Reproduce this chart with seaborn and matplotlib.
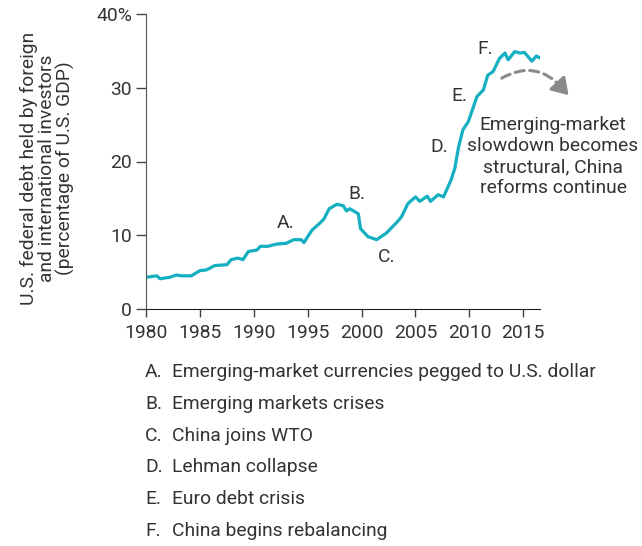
import numpy as np
import pandas as pd
import matplotlib
matplotlib.use('Agg')
import matplotlib.pyplot as plt
import seaborn as sns

# 数据
years = [1979.8, 1980.0, 1981.0, 1981.3, 1982.2, 1982.8, 1983.3, 1984.2, 1985.0, 1985.6,
         1986.4, 1987.5, 1987.9, 1988.5, 1989.0, 1989.5, 1990.3, 1990.6, 1991.3, 1992.1,
         1993.0, 1993.7, 1994.4, 1994.65, 1995.4, 1996.1, 1996.5, 1997.0, 1997.7, 1998.3,
         1998.6, 1998.9, 1999.7, 1999.9, 2000.6, 2001.4, 2002.3, 2003.3, 2003.7, 2004.3,
         2005.0, 2005.4, 2006.1, 2006.4, 2007.1, 2007.6, 2008.3, 2008.65, 2009.0, 2009.4,
         2009.9, 2010.7, 2011.3, 2011.7, 2012.2, 2012.8, 2013.3, 2013.6, 2014.2, 2014.7,
         2015.1, 2015.8, 2016.2, 2016.6]
share = [4.6, 4.3, 4.5, 4.1, 4.3, 4.6, 4.5, 4.5, 5.2, 5.3,
         5.9, 6.0, 6.7, 6.9, 6.7, 7.8, 8.0, 8.5, 8.5, 8.8,
         8.9, 9.4, 9.4, 9.0, 10.7, 11.6, 12.2, 13.6, 14.2, 14.0,
         13.3, 13.6, 12.9, 10.9, 9.8, 9.4, 10.3, 11.8, 12.5, 14.3,
         15.2, 14.6, 15.3, 14.6, 15.5, 15.2, 17.5, 19.1, 22.0, 24.3,
         25.4, 28.8, 29.7, 31.7, 32.2, 34.0, 34.7, 33.8, 34.9, 34.7,
         34.8, 33.6, 34.3, 34.0]

event_letters = ['A.', 'B.', 'C.', 'D.', 'E.', 'F.']
event_x = [1992.95, 1999.6, 2002.3, 2007.2, 2009.1, 2011.5]
event_y = [11.6, 15.6, 7.1, 22.0, 28.9, 35.3]
event_notes = ['Emerging-market currencies pegged to U.S. dollar',
               'Emerging markets crises',
               'China joins WTO',
               'Lehman collapse',
               'Euro debt crisis',
               'China begins rebalancing']

y_ticks = [0, 10, 20, 30, 40]
y_ticklabels = ['0', '10', '20', '30', '40%']
x_ticks = [1980, 1985, 1990, 1995, 2000, 2005, 2010, 2015]

LINE_COLOR = '#14afc0'
TEXT_COLOR = '#333333'
ARROW_COLOR = '#8a8a8a'
FS = 13.9

sns.set_style('ticks')
plt.rcParams['font.family'] = ['Roboto', 'DejaVu Sans']
plt.rcParams['font.weight'] = 'normal'
plt.rcParams['font.size'] = FS

df = pd.DataFrame({'year': years, 'share': share})

fig = plt.figure(figsize=(6.42, 5.46), dpi=100)
ax = fig.add_axes([146 / 642, 1 - 309 / 546, (540 - 146) / 642, (309 - 14) / 546])

sns.lineplot(data=df, x='year', y='share', color=LINE_COLOR, linewidth=2.3, ax=ax)

ax.set_xlim(1980, 2016.55)
ax.set_ylim(0, 40)
ax.set_xticks(x_ticks)
ax.set_yticks(y_ticks)
ax.set_yticklabels(y_ticklabels)
ax.set_xlabel('')
ax.set_ylabel('U.S. federal debt held by foreign\nand international investors\n(percentage of U.S. GDP)',
              fontsize=FS, color=TEXT_COLOR, linespacing=1.0)
ax.yaxis.set_label_coords(-0.251, 0.478)
ax.yaxis.label.set_verticalalignment('center')

for side in ['top', 'right']:
    ax.spines[side].set_visible(False)
ax.spines['left'].set_color('#555555')
ax.spines['bottom'].set_color('#222222')
ax.tick_params(axis='y', length=7, width=1, color='#444444', labelsize=FS,
               labelcolor=TEXT_COLOR, pad=3)
ax.tick_params(axis='x', length=6, width=1, color='#444444', labelsize=FS,
               labelcolor=TEXT_COLOR, pad=4.5)

# 事件标注
for lab, x, y in zip(event_letters, event_x, event_y):
    ax.text(x, y, lab, ha='center', va='center', fontsize=FS, color=TEXT_COLOR)

# 展望文字和虚线箭头
ax.text(2017.76, 20.7, 'Emerging-market\nslowdown becomes\nstructural, China\nreforms continue',
        ha='center', va='center', fontsize=FS, color=TEXT_COLOR, linespacing=1.22, clip_on=False)
ax.annotate('', xy=(2018.6, 30.0), xytext=(2013.0, 31.3),
            arrowprops=dict(arrowstyle='-', color=ARROW_COLOR, lw=2.2,
                            linestyle=(0, (3, 1.8)),
                            connectionstyle='arc3,rad=-0.4', shrinkA=0, shrinkB=0),
            annotation_clip=False)
ax.annotate('', xy=(2019.2, 29.0), xytext=(2018.5, 30.1),
            arrowprops=dict(arrowstyle='-|>,head_length=0.7,head_width=0.45', color=ARROW_COLOR,
                            lw=2.2, shrinkA=0, shrinkB=0),
            annotation_clip=False)

# 底部说明
note_y = [372, 404, 436, 467, 499, 531]
for lab, note, yp in zip(event_letters, event_notes, note_y):
    fig.text(145 / 642, 1 - yp / 546, lab, ha='left', va='center', fontsize=FS, color=TEXT_COLOR)
    fig.text(172 / 642, 1 - yp / 546, note, ha='left', va='center', fontsize=FS, color=TEXT_COLOR)

fig.savefig('out.png', dpi=100)
